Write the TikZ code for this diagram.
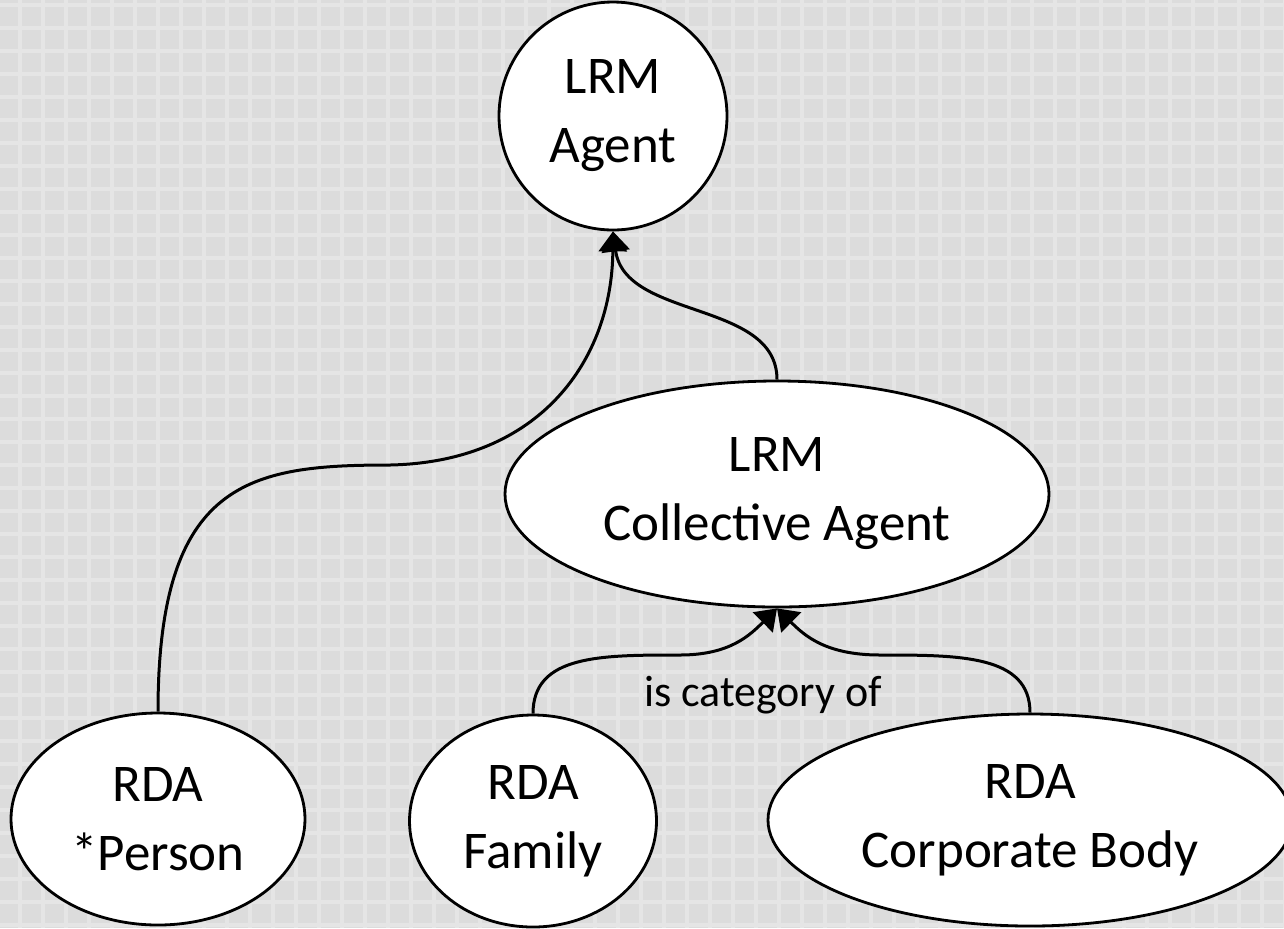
\documentclass[tikz,border=0pt]{standalone}
\usepackage{fontspec}
\setmainfont{Carlito}
\usetikzlibrary{shapes.geometric,arrows.meta}
\definecolor{bg}{HTML}{DCDCDC}
\definecolor{bgline}{HTML}{E5E5E5}
\begin{document}
\begin{tikzpicture}[x=0.5pt,y=-0.5pt,
  ent/.style={ellipse,draw=black,line width=1.4pt,fill=white,inner sep=0pt,align=center,
    font=\fontsize{26.5}{33.5}\selectfont},
  conn/.style={line width=1.5pt,-{Triangle[length=10pt,width=14pt]}},
  lbl/.style={font=\fontsize{22}{26}\selectfont}]
\fill[bg] (0,0) rectangle (1284,928);
\useasboundingbox (0,0) rectangle (1284,928);
\foreach \i in {0,...,56} {\draw[bgline,line width=1.8pt] (\i*23+20,0) -- (\i*23+20,928);}
\foreach \j in {0,...,40} {\draw[bgline,line width=1.8pt] (0,\j*23+5) -- (1284,\j*23+5);}

\node[ent,minimum width=114pt,minimum height=114pt] (agent) at (613,116) {LRM\\[1pt]Agent};
\node[ent,minimum width=272pt,minimum height=113pt] (coll) at (777,494) {LRM\\[1pt]Collective Agent};
\node[ent,minimum width=147pt,minimum height=106pt] (person) at (158,819) {RDA\\[1pt]*Person};
\node[ent,minimum width=123.5pt,minimum height=106pt] (family) at (533,821) {RDA\\[1pt]Family};
\node[ent,minimum width=262pt,minimum height=106pt] (corp) at (1030,820) {RDA\\[1pt]Corporate Body};

\draw[conn] (person.north) .. controls (158,480) and (250,465) .. (390,465)
  .. controls (540,462) and (612,360) .. (agent.south);
\draw[conn] (coll.north) .. controls (777,300) and (625,320) .. (agent.south);
\draw[conn] (family.north) .. controls (533,655) and (600,655) .. (680,655)
  .. controls (730,655) and (750,635) .. (coll.south);
\draw[conn] (corp.north) .. controls (1030,655) and (960,655) .. (880,655)
  .. controls (825,655) and (804,635) .. (coll.south);
\node[lbl] (cat) at (763,695) {is category of};
\end{tikzpicture}
\end{document}
